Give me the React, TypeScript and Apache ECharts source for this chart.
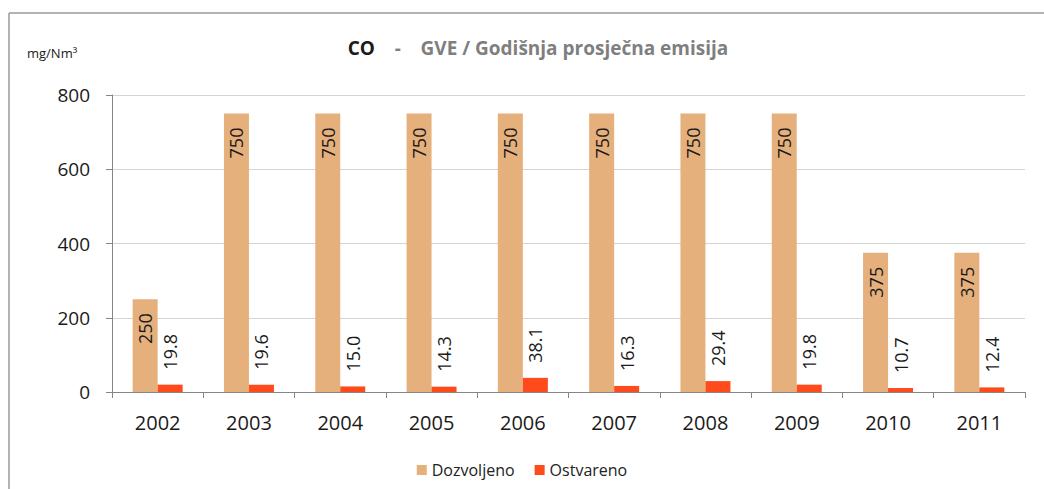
import React, { useEffect, useRef } from "react";
import * as echarts from "echarts";

const categories = ["2002", "2003", "2004", "2005", "2006", "2007", "2008", "2009", "2010", "2011"];
const allowed = [250, 750, 750, 750, 750, 750, 750, 750, 375, 375];
const achieved = [19.8, 19.6, 15.0, 14.3, 38.1, 16.3, 29.4, 19.8, 10.7, 12.4];
const yTicks = { min: 0, max: 800, interval: 200 };

const FONT = "'Open Sans', 'Liberation Sans', sans-serif";

export default function App() {
  const ref = useRef<HTMLDivElement>(null);
  useEffect(() => {
    if (!ref.current) return;
    const chart = echarts.init(ref.current, undefined, { renderer: "svg" });
    chart.setOption({
      animation: false,
      backgroundColor: "#ffffff",
      textStyle: { fontFamily: FONT },
      title: {
        text: "{a|CO}{b|    -    GVE / Godišnja prosječna emisija}",
        left: 533,
        textAlign: "center",
        top: 33,
        textStyle: {
          rich: {
            a: { fontFamily: FONT, fontWeight: "bold", fontSize: 19, color: "#1a1a1a" },
            b: { fontFamily: FONT, fontWeight: "bold", fontSize: 19, color: "#7f7f7f" },
          },
        },
      },
      graphic: [
        { type: "line", shape: { x1: 9, y1: 13, x2: 1044, y2: 13 }, style: { stroke: "#9a9a9a", lineWidth: 1.5 } },
        { type: "line", shape: { x1: 9, y1: 13, x2: 9, y2: 489 }, style: { stroke: "#9a9a9a", lineWidth: 1.5 } },
        {
          type: "text",
          x: 27,
          y: 46,
          style: {
            text: "mg/Nm³",
            fontFamily: FONT,
            fontSize: 13,
            fill: "#1a1a1a",
          },
        },
      ],
      legend: {
        bottom: 6,
        left: "center",
        itemWidth: 10,
        itemHeight: 10,
        itemGap: 20,
        icon: "rect",
        textStyle: { fontFamily: FONT, fontSize: 16, color: "#222" },
        data: ["Dozvoljeno", "Ostvareno"],
      },
      grid: { left: 112, right: 19, top: 95, bottom: 97 },
      xAxis: {
        type: "category",
        data: categories,
        axisLine: { lineStyle: { color: "#868686", width: 1 } },
        axisTick: { show: true, length: 6, lineStyle: { color: "#868686" } },
        axisLabel: { fontFamily: FONT, fontSize: 20, color: "#1a1a1a", margin: 20 },
      },
      yAxis: {
        type: "value",
        min: yTicks.min,
        max: yTicks.max,
        interval: yTicks.interval,
        axisLine: { show: true, lineStyle: { color: "#868686", width: 1 } },
        axisTick: { show: true, length: 6, lineStyle: { color: "#868686" } },
        axisLabel: { fontFamily: FONT, fontSize: 19, color: "#1a1a1a", margin: 22 },
        splitLine: { lineStyle: { color: "#d4d4d4" } },
      },
      series: [
        {
          name: "Dozvoljeno",
          type: "bar",
          data: allowed,
          barWidth: 25,
          barGap: "0%",
          itemStyle: { color: "#e6b07d" },
          label: {
            show: true,
            position: "insideTop",
            rotate: 90,
            align: "right",
            verticalAlign: "middle",
            distance: 14,
            fontFamily: FONT,
            fontSize: 18,
            color: "#1a1a1a",
          },
        },
        {
          name: "Ostvareno",
          type: "bar",
          data: achieved,
          barWidth: 25,
          barGap: "0%",
          itemStyle: { color: "#ff4a1c" },
          label: {
            show: true,
            position: "top",
            rotate: 90,
            align: "left",
            verticalAlign: "middle",
            distance: 15,
            fontFamily: FONT,
            fontSize: 18,
            color: "#1a1a1a",
            formatter: (p: any) => Number(p.value).toFixed(1),
          },
        },
      ],
    });
    return () => chart.dispose();
  }, []);
  return (
    <div
      ref={ref}
      style={{ position: "fixed", left: 0, top: 0, width: 1044, height: 489 }}
    />
  );
}
